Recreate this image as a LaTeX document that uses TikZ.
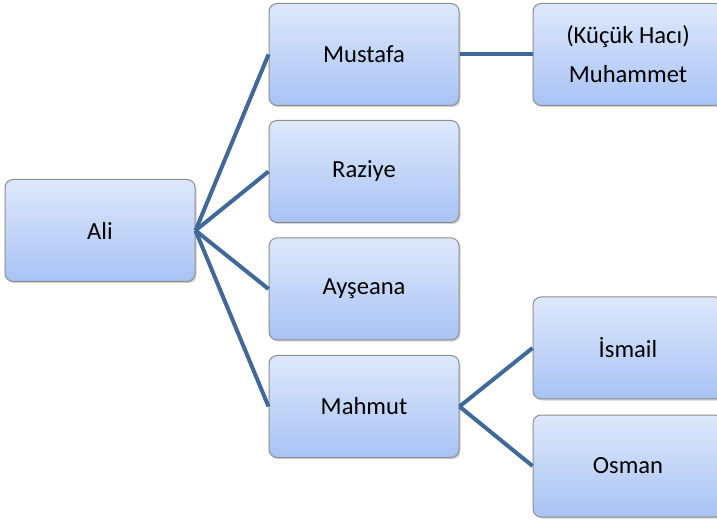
\documentclass[tikz,border=0pt]{standalone}
\usepackage{fontspec}
\setmainfont{Carlito}
\usetikzlibrary{positioning,shadows}
\definecolor{boxtop}{HTML}{DEE8FB}
\definecolor{boxbot}{HTML}{A8C3F4}
\definecolor{boxline}{HTML}{8E8E8E}
\definecolor{linkblue}{HTML}{40699A}

\begin{document}
\begin{tikzpicture}[x=0.5pt,y=-0.5pt,
	person/.style={draw=boxline, line width=0.5pt, rounded corners=4pt,
		top color=boxtop, bottom color=boxbot,
		minimum width=95pt, minimum height=51pt, inner sep=0pt, align=center,
		font=\fontsize{12.3}{19.5}\selectfont,
		drop shadow={shadow xshift=0.8pt, shadow yshift=-0.8pt, opacity=0.35}},
	link/.style={draw=linkblue, line width=2pt}]
	\clip (0,0) rectangle (717,523);
	% first generation
	\node[person] (ali) at (100,230.5) {Ali};
	% children
	\node[person] (mustafa) at (364,54.5) {Mustafa};
	\node[person] (raziye) at (364,171.5) {Raziye};
	\node[person] (ayseana) at (364,289) {Ayşeana};
	\node[person] (mahmut) at (364,406.5) {Mahmut};
	% grandchildren
	\node[person] (muhammet) at (628,54.5) {(Küçük Hacı)\\Muhammet};
	\node[person] (ismail) at (628,348) {İsmail};
	\node[person] (osman) at (628,466) {Osman};
	% links
	\draw[link] (ali.east) -- (mustafa.west);
	\draw[link] (ali.east) -- (raziye.west);
	\draw[link] (ali.east) -- (ayseana.west);
	\draw[link] (ali.east) -- (mahmut.west);
	\draw[link] (mustafa.east) -- (muhammet.west);
	\draw[link] (mahmut.east) -- (ismail.west);
	\draw[link] (mahmut.east) -- (osman.west);
\end{tikzpicture}
\end{document}
